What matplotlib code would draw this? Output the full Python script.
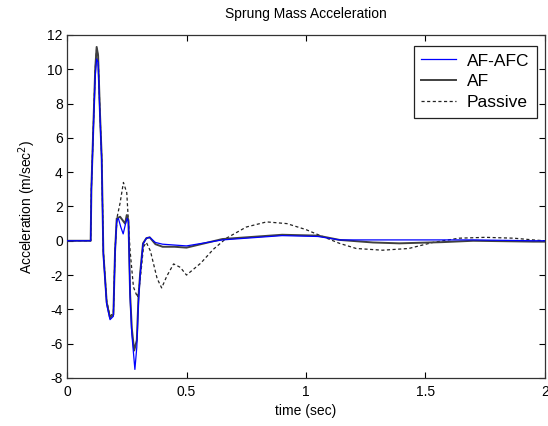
import numpy as np
import matplotlib
matplotlib.use("Agg")
import matplotlib.pyplot as plt

# values
t_af = [0, 0.099, 0.102, 0.110, 0.118, 0.124, 0.130, 0.138, 0.145, 0.152, 0.166, 0.180,
        0.194, 0.201, 0.208, 0.222, 0.243, 0.250, 0.257, 0.264, 0.271, 0.281, 0.292,
        0.299, 0.306, 0.318, 0.332, 0.346, 0.370, 0.400, 0.450, 0.500, 0.650, 0.800,
        0.900, 1.050, 1.140, 1.280, 1.390, 1.570, 1.700, 1.950, 2.000]
acc_af = [0, 0, 3.1, 6.6, 10.0, 11.3, 10.8, 7.4, 4.9, -0.7, -3.6, -4.5,
          -4.3, -0.6, 1.3, 1.4, 1.0, 1.5, 1.2, -3.1, -5.1, -6.4, -5.8,
          -3.3, -1.9, -0.15, 0.15, 0.2, -0.2, -0.35, -0.35, -0.4, 0.1, 0.25,
          0.35, 0.3, 0.05, -0.1, -0.15, -0.08, 0.0, -0.05, -0.05]

t_afc = [0, 0.099, 0.102, 0.110, 0.118, 0.124, 0.130, 0.138, 0.145, 0.152, 0.166, 0.180,
         0.194, 0.201, 0.208, 0.215, 0.225, 0.235, 0.245, 0.252, 0.257, 0.264, 0.271, 0.284,
         0.292, 0.299, 0.306, 0.318, 0.332, 0.346, 0.370, 0.400, 0.450, 0.500, 0.650,
         0.800, 0.900, 1.050, 1.140, 1.280, 1.390, 1.570, 1.700, 1.950, 2.000]
acc_afc = [0, 0, 3.0, 6.4, 9.6, 10.6, 10.4, 7.2, 4.7, -0.8, -3.7, -4.6,
           -4.4, -0.7, 1.2, 1.3, 0.8, 0.4, 1.0, 1.3, 1.1, -3.3, -5.4, -7.5,
           -6.2, -3.6, -2.0, -0.2, 0.15, 0.2, -0.1, -0.2, -0.25, -0.3, 0.05,
           0.2, 0.3, 0.25, 0.05, 0.05, 0.05, 0.05, 0.05, 0.0, 0.0]

t_pas = [0, 0.099, 0.102, 0.110, 0.118, 0.124, 0.130, 0.138, 0.145, 0.152, 0.166, 0.180,
         0.194, 0.201, 0.210, 0.222, 0.236, 0.250, 0.264, 0.278, 0.295, 0.306, 0.320,
         0.332, 0.349, 0.377, 0.396, 0.418, 0.446, 0.474, 0.500, 0.560, 0.612, 0.667,
         0.750, 0.835, 0.920, 1.000, 1.060, 1.140, 1.210, 1.320, 1.430, 1.530, 1.640,
         1.750, 1.870, 1.950, 2.000]
acc_pas = [0, 0, 3.1, 6.6, 10.0, 11.2, 10.8, 7.4, 4.9, -0.6, -3.5, -4.4,
           -4.2, -0.5, 1.4, 2.2, 3.4, 2.8, -0.6, -2.7, -3.3, -2.3, -0.35,
           -0.1, -0.6, -2.2, -2.75, -2.05, -1.35, -1.55, -2.0, -1.3, -0.5, 0.15,
           0.8, 1.1, 1.0, 0.65, 0.3, -0.15, -0.45, -0.55, -0.45, -0.1, 0.15,
           0.2, 0.15, 0.05, 0.0]

plt.rcParams['font.family'] = ['Liberation Sans', 'DejaVu Sans']
plt.rcParams['font.size'] = 10
plt.rcParams['axes.unicode_minus'] = False

fig = plt.figure(figsize=(5.48, 4.26), dpi=100)
ax = fig.add_axes([0.1223, 0.1127, 0.8722, 0.8053])

ax.plot(t_af, acc_af, color='#404040', lw=1.4, label='AF', zorder=2)
ax.plot(t_afc, acc_afc, color='#0000ff', lw=0.9, label='AF-AFC', zorder=3)
ax.plot(t_pas, acc_pas, color='#222222', lw=0.9, linestyle=(0, (2.5, 2)),
        label='Passive', zorder=1)

ax.set_xlim(0, 2)
ax.set_ylim(-8, 12)
ax.set_xticks([0, 0.5, 1, 1.5, 2])
ax.set_xticklabels(['0', '0.5', '1', '1.5', '2'])
ax.set_yticks(np.arange(-8, 13, 2))
ax.tick_params(direction='in', top=True, right=True, length=4, width=0.8)
ax.tick_params(axis='x', pad=5)
ax.tick_params(axis='y', pad=3)
for s in ax.spines.values():
    s.set_color('#333333')
    s.set_linewidth(0.9)

ax.set_title('Sprung Mass Acceleration', fontsize=10, pad=12)
ax.set_xlabel('time (sec)', fontsize=10, labelpad=4)
ax.set_ylabel('Acceleration (m/sec$^2$)', fontsize=10, labelpad=7)

handles, labels = ax.get_legend_handles_labels()
order = [labels.index('AF-AFC'), labels.index('AF'), labels.index('Passive')]
leg = ax.legend([handles[i] for i in order], [labels[i] for i in order],
                loc='upper right', bbox_to_anchor=(0.983, 0.969), borderaxespad=0,
                fancybox=False, framealpha=1, edgecolor='#222222',
                handlelength=2.0, handletextpad=0.6, labelspacing=0.32,
                borderpad=0.45, fontsize=12.5)
leg.get_frame().set_linewidth(0.9)

fig.savefig('out.png', dpi=100)
